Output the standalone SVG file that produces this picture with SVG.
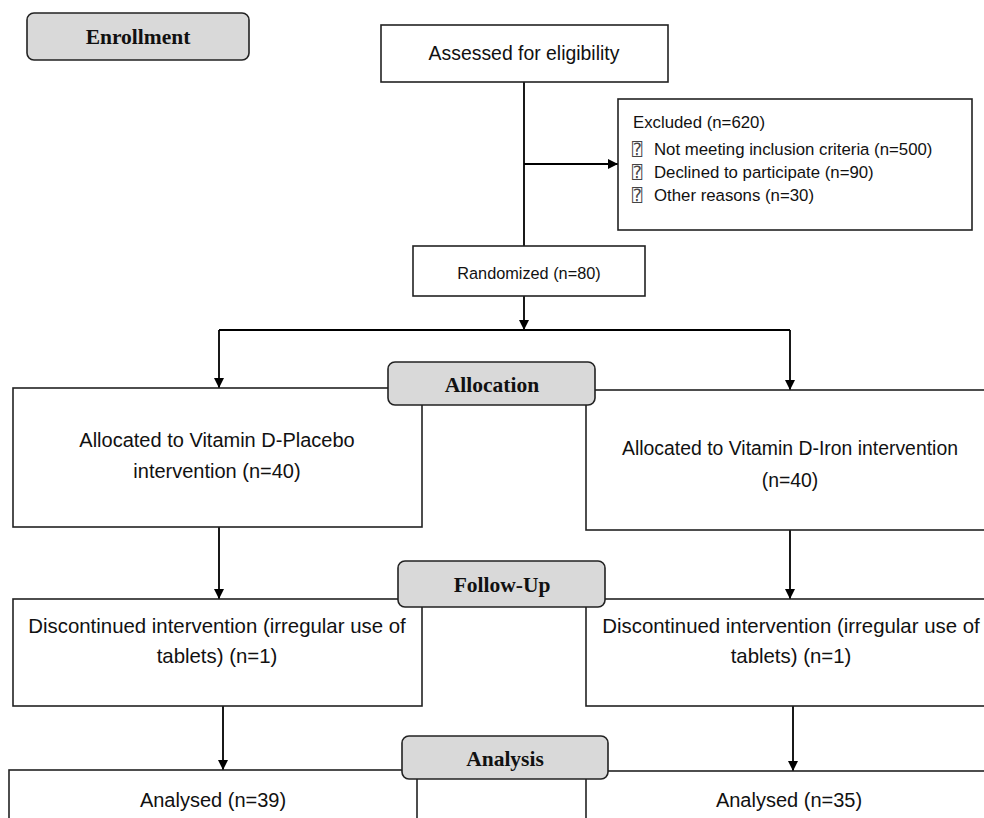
<svg xmlns="http://www.w3.org/2000/svg" width="984" height="818" viewBox="0 0 984 818">
<defs>
<marker id="ah" viewBox="0 0 10 10" refX="10" refY="5" markerWidth="10" markerHeight="10" markerUnits="userSpaceOnUse" orient="auto">
<path d="M0,0 L10,5 L0,10 Z" fill="#000"/>
</marker>
<style>
.box{fill:#fff;stroke:#222;stroke-width:1.6}
.lab{fill:#d9d9d9;stroke:#222;stroke-width:1.6}
.ln{fill:none;stroke:#000;stroke-width:1.8}
.arr{fill:none;stroke:#000;stroke-width:1.8;marker-end:url(#ah)}
.t{font-family:"Liberation Sans",Arial,sans-serif;fill:#111;text-anchor:middle}
.b{font-family:"Liberation Serif","Times New Roman",serif;font-weight:bold;fill:#111;text-anchor:middle;font-size:21.5px}
.ex{font-family:"Liberation Sans",Arial,sans-serif;fill:#111;font-size:16.8px}
.q{font-family:"DejaVu Sans Mono","DejaVu Sans",monospace;fill:#444;font-size:17px}
</style>
</defs>
<rect width="984" height="818" fill="#fff"/>

<g id="connectors">
<path class="ln" d="M524,82 V246"/>
<path class="arr" d="M524,164 H618"/>
<path class="arr" d="M524,296 V330"/>
<path class="ln" d="M219,330 H790"/>
<path class="arr" d="M219,330 V388"/>
<path class="arr" d="M790,330 V390"/>
<path class="arr" d="M219,527 V599"/>
<path class="arr" d="M790,530 V599"/>
<path class="arr" d="M223,706 V770"/>
<path class="arr" d="M793,706 V771"/>
</g>

<g id="enrollment">
<rect class="lab" x="27" y="13" width="222" height="47" rx="7"/>
<text class="b" x="138" y="44">Enrollment</text>
</g>

<g id="assessed">
<rect class="box" x="381" y="25" width="287" height="57"/>
<text class="t" x="524" y="60" font-size="19.4">Assessed for eligibility</text>
</g>

<g id="excluded">
<rect class="box" x="618" y="99" width="354" height="131"/>
<text class="ex" x="633" y="128">Excluded (n=620)</text>
<text class="q" x="632" y="155">⍰</text>
<text class="ex" x="654" y="155">Not meeting inclusion criteria (n=500)</text>
<text class="q" x="632" y="178">⍰</text>
<text class="ex" x="654" y="178">Declined to participate (n=90)</text>
<text class="q" x="632" y="201">⍰</text>
<text class="ex" x="654" y="201">Other reasons (n=30)</text>
</g>

<g id="randomized">
<rect class="box" x="413" y="246" width="232" height="50"/>
<text class="t" x="529" y="279" font-size="16.3">Randomized (n=80)</text>
</g>

<g id="alloc-left">
<rect class="box" x="13" y="388" width="409" height="139"/>
<text class="t" x="217" y="447" font-size="20">Allocated to Vitamin D-Placebo</text>
<text class="t" x="217" y="478" font-size="20">intervention (n=40)</text>
</g>

<g id="alloc-right">
<rect class="box" x="586" y="390" width="410" height="140"/>
<text class="t" x="790" y="455" font-size="19.4">Allocated to Vitamin D-Iron intervention</text>
<text class="t" x="790" y="487" font-size="19.4">(n=40)</text>
</g>

<g id="allocation">
<rect class="lab" x="388" y="362" width="207" height="43" rx="7"/>
<text class="b" x="492" y="392">Allocation</text>
</g>

<g id="disc-left">
<rect class="box" x="13" y="599" width="409" height="107"/>
<text class="t" x="217" y="633" font-size="20.4">Discontinued intervention (irregular use of</text>
<text class="t" x="217" y="663" font-size="20.4">tablets) (n=1)</text>
</g>

<g id="disc-right">
<rect class="box" x="586" y="599" width="410" height="107"/>
<text class="t" x="791" y="633" font-size="20.4">Discontinued intervention (irregular use of</text>
<text class="t" x="791" y="663" font-size="20.4">tablets) (n=1)</text>
</g>

<g id="followup">
<rect class="lab" x="398" y="561" width="207" height="46" rx="7"/>
<text class="b" x="502" y="592">Follow-Up</text>
</g>

<g id="analysed-left">
<rect class="box" x="9" y="770" width="408" height="60"/>
<text class="t" x="213" y="807" font-size="20">Analysed (n=39)</text>
</g>

<g id="analysed-right">
<rect class="box" x="586" y="771" width="410" height="60"/>
<text class="t" x="789" y="807" font-size="20">Analysed (n=35)</text>
</g>

<g id="analysis">
<rect class="lab" x="402" y="736" width="206" height="43" rx="7"/>
<text class="b" x="505" y="766">Analysis</text>
</g>
</svg>
